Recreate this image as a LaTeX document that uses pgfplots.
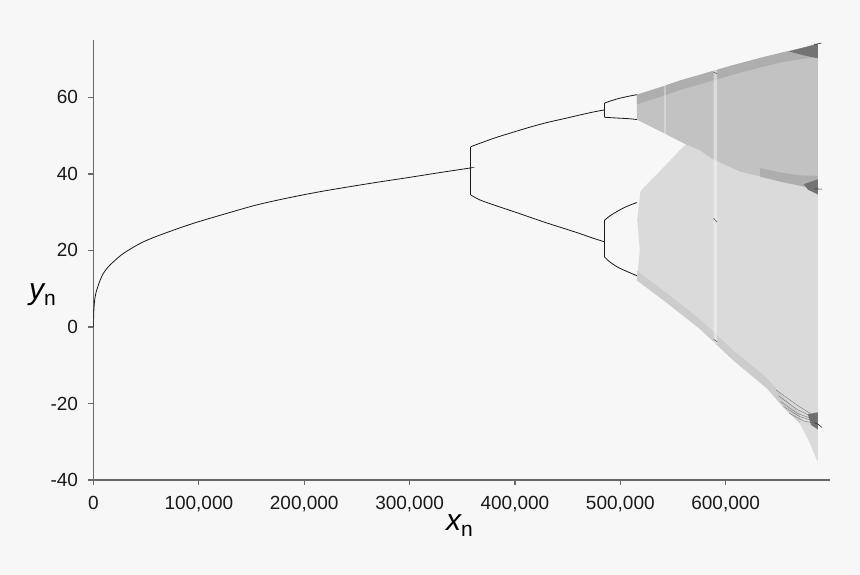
\documentclass[border=0pt]{standalone}
\usepackage{fontspec}
\setmainfont{Liberation Sans}
\usepackage{pgfplots}
\pgfplotsset{compat=1.18}
\definecolor{bgc}{RGB}{247,247,247}
\definecolor{axc}{RGB}{105,105,105}
\definecolor{upband}{RGB}{194,194,194}
\definecolor{lowband}{RGB}{218,218,218}
\definecolor{edgeband}{RGB}{174,174,174}
\definecolor{lowedge}{RGB}{204,204,204}
\definecolor{knot}{RGB}{115,115,115}
\definecolor{curve}{RGB}{25,25,25}

\begin{document}
\begin{tikzpicture}
\fill[bgc] (-93.5pt,-95pt) rectangle (766.5pt,480pt);
\useasboundingbox (-93.5pt,-95pt) rectangle (766.5pt,480pt);
\begin{axis}[
    scale only axis,
    width=736.5pt, height=440pt,
    xmin=0, xmax=699000,
    ymin=-40, ymax=75,
    scaled x ticks=false,
    axis x line*=bottom,
    axis y line*=left,
    axis line style={draw=axc, line width=1.2pt},
    tick style={draw=axc, line width=1.2pt},
    tick align=outside,
    major tick length=5pt,
    xtick={0,100000,200000,300000,400000,500000,600000},
    xticklabels={0,{100,000},{200,000},{300,000},{400,000},{500,000},{600,000}},
    ytick={-40,-20,0,20,40,60},
    yticklabels={-40,-20,0,20,40,60},
    tick label style={font=\fontsize{19}{21}\selectfont, text=black!90},
    xticklabel style={anchor=north, yshift=-8pt},
    yticklabel style={anchor=east, xshift=-7pt},
    xlabel={\fontsize{30}{32}\selectfont\itshape x\raisebox{-6pt}{\fontsize{21}{22}\selectfont\upshape n}},
    ylabel={\fontsize{30}{32}\selectfont\itshape y\raisebox{-6pt}{\fontsize{21}{22}\selectfont\upshape n}},
    xlabel style={at={(axis description cs:0.5,0)}, anchor=base, yshift=-50.7pt, xshift=-2.4pt},
    ylabel style={rotate=-90, at={(axis description cs:0,0.41)}, anchor=base, xshift=-51pt},
]

% chaotic region, lower (sparser) part
\addplot[draw=none, fill=lowband] coordinates {
 (515700,12.2) (518500,20) (516000,28) (519000,35.2) (521400,36.2) (537500,40.7)
 (556500,46.2) (562200,47.7) (575500,46.2) (587800,43.8) (613600,40.6) (632600,39.3)
 (651600,38.0) (670600,36.9) (682900,36.2) (687600,36.0) (687600,-35) (686700,-34.9)
 (680100,-30.5) (670600,-25.3) (654500,-20.9) (639000,-16.0) (606700,-8.6)
 (575500,-0.5) (544200,6.3) (515700,12.2)};
% denser strip along the lower edge
\addplot[draw=none, fill=lowedge] coordinates {
 (515700,12.2) (544200,6.3) (575500,-0.5) (606700,-8.6) (639000,-16) (654500,-20.9)
 (670600,-25.3) (670600,-22.5) (654500,-18.2) (639000,-13.3) (606700,-6.0)
 (575500,2.0) (544200,8.8) (515700,14.7)};
% chaotic region, upper (denser) part
\addplot[draw=none, fill=upband] coordinates {
 (515700,60.7) (537500,62.6) (556500,64.4) (575500,65.9) (587800,66.9) (606700,68.4)
 (632600,70.3) (651600,71.6) (670600,72.8) (687600,74.0) (687600,36.0) (682900,36.2)
 (670600,36.9) (651600,38.0) (632600,39.3) (613600,40.6) (587800,43.8) (575500,46.2)
 (562200,47.7) (537500,51.2) (515700,54.2)};
% dense strip along the top edge
\addplot[draw=none, fill=edgeband] coordinates {
 (515700,60.7) (537500,62.6) (556500,64.4) (575500,65.9) (587800,66.9) (606700,68.4)
 (632600,70.3) (651600,71.6) (670600,72.8) (687600,74.0) (687600,70.5) (670600,70.0)
 (651600,69.1) (632600,67.8) (606700,65.9) (587800,64.4) (575500,63.4) (556500,61.9)
 (537500,60.1) (515700,58.2)};
% dense strip along the inner edge
\addplot[draw=none, fill=edgeband] coordinates {
 (632600,39.3) (651600,38.0) (670600,36.9) (682900,36.2) (687600,36.0)
 (687600,39.5) (670600,39.6) (651600,40.4) (632600,41.5)};
% dark knots at the right end
\addplot[draw=none, fill=knot] coordinates {
 (660000,72.0) (687600,74.0) (687600,70.2) (674000,71.0)};
\addplot[draw=none, fill=knot] coordinates {
 (674000,37.3) (687600,38.6) (687600,34.6) (678000,35.9)};
\addplot[draw=none, fill=knot] coordinates {
 (678000,-22.8) (687600,-22.3) (687600,-26.8) (681000,-25.6)};
% period-3 window and a narrower window
\addplot[draw=none, fill=bgc, fill opacity=0.5] coordinates {
 (588500,67.0) (591800,67.3) (591800,-4.6) (588500,-3.9)};
\addplot[draw=none, fill=bgc, fill opacity=0.35] coordinates {
 (541500,63.0) (543300,63.3) (543300,50.2) (541500,50.5)};
\addplot[black!70, line width=0.5pt] coordinates {(588500,66.6) (591800,66.2)};
\addplot[black!70, line width=0.5pt] coordinates {(588500,28.4) (591800,27.4)};
\addplot[black!70, line width=0.5pt] coordinates {(588500,-3.2) (591800,-3.9)};
% fan of lines at the lower right
\addplot[black!60, line width=0.3pt] coordinates {(648000,-16.5) (668000,-20.5) (686000,-23.6)};
\addplot[black!60, line width=0.3pt] coordinates {(650000,-18.0) (668000,-21.6) (686000,-24.0)};
\addplot[black!60, line width=0.3pt] coordinates {(652000,-19.5) (668000,-22.6) (686000,-24.4)};
\addplot[black!60, line width=0.3pt] coordinates {(655000,-20.8) (670000,-23.4) (686000,-24.8)};
\addplot[black!60, line width=0.3pt] coordinates {(660000,-22.5) (674000,-24.6) (686000,-25.2)};
\addplot[black!80, line width=0.6pt] coordinates {(684000,-25.0) (688000,-25.5) (691500,-26.3)};
\addplot[black!80, line width=0.6pt] coordinates {(684000,36.1) (691500,36.0)};
\addplot[black!80, line width=0.6pt] coordinates {(684000,73.8) (691000,74.2)};

% fixed point branch
\addplot[curve, line width=0.8pt, smooth] coordinates {
 (0,0) (200,3.5) (700,5.9) (1500,7.8) (3000,9.6) (6000,12.0) (9300,14.0)
 (14000,15.7) (18800,17.0) (28300,19.2) (44100,21.8) (60000,23.7) (91600,26.8)
 (123000,29.4) (155000,31.9) (186000,33.8) (218000,35.5) (262000,37.5)
 (300000,39.1) (330000,40.4) (356500,41.5) (358000,41.6)};
% period 2
\addplot[curve, line width=0.5pt] coordinates {(358000,34.5) (358000,47.1)};
\addplot[curve, line width=0.8pt, smooth] coordinates {
 (358000,47.1) (366700,48.0) (382000,49.5) (398300,50.9) (414000,52.2) (430000,53.4)
 (446000,54.4) (461600,55.4) (473000,56.1) (484400,56.7)};
\addplot[curve, line width=0.8pt, smooth] coordinates {
 (358000,34.5) (366700,33.2) (382000,31.7) (398300,30.2) (414000,28.7) (430000,27.2)
 (446000,25.8) (461600,24.4) (473000,23.3) (484400,22.3)};
% period 4
\addplot[curve, line width=0.5pt] coordinates {(484600,54.8) (484600,58.5)};
\addplot[curve, line width=0.5pt] coordinates {(484600,18.3) (484600,27.9)};
\addplot[curve, line width=0.8pt, smooth] coordinates {
 (485000,58.5) (490000,59.0) (497000,59.6) (503000,60.0) (509700,60.4) (515700,60.7)};
\addplot[curve, line width=0.8pt, smooth] coordinates {
 (485000,54.8) (497000,54.6) (509700,54.4) (515700,54.2)};
\addplot[curve, line width=0.8pt, smooth] coordinates {
 (485000,27.9) (490000,29.0) (497000,30.2) (503000,31.1) (509700,31.9) (515700,32.5)};
\addplot[curve, line width=0.8pt, smooth] coordinates {
 (485000,18.3) (490000,17.0) (497000,15.7) (503000,14.9) (509700,14.1) (515700,13.4)};
\end{axis}
\end{tikzpicture}
\end{document}
